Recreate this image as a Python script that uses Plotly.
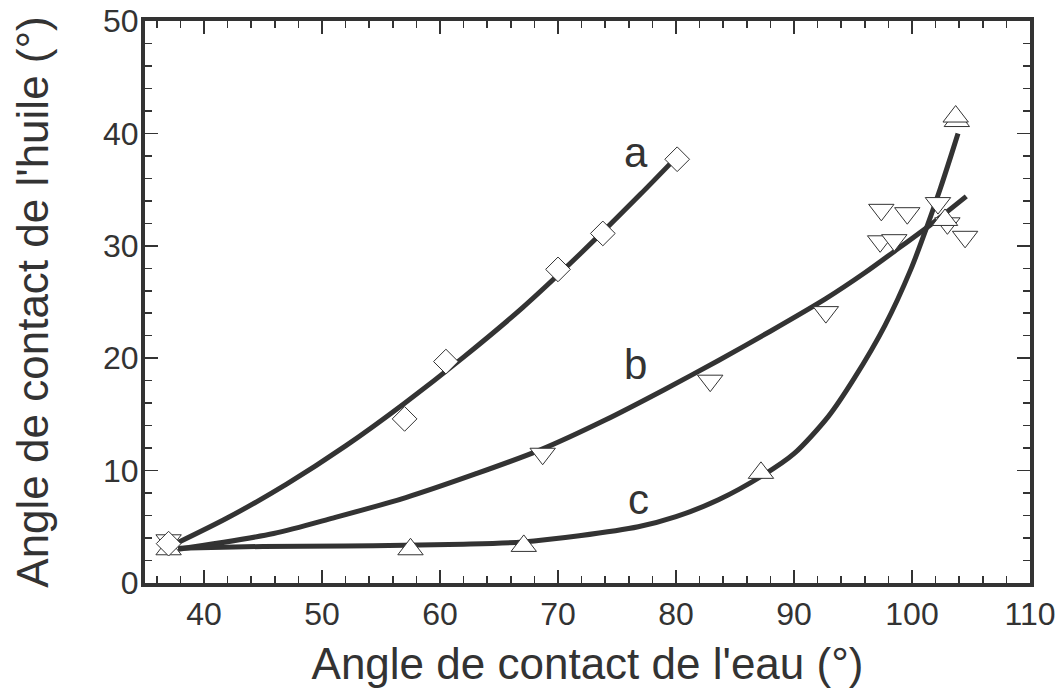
import plotly.graph_objects as go

# --- data ---
# series a (diamonds)
a_x = [37.0, 57.0, 60.5, 70.0, 73.8, 80.1]
a_y = [3.5, 14.6, 19.7, 27.9, 31.1, 37.7]
# series b (down triangles)
b_x = [37.0, 68.7, 82.9, 92.7, 97.4, 99.6, 97.3, 98.5, 102.2, 103.0, 104.5]
b_y = [3.8, 11.5, 18.0, 24.1, 33.2, 32.9, 30.4, 30.5, 33.8, 32.0, 30.8]
# series c (up triangles)
c_x = [37.0, 57.5, 67.1, 87.2, 102.8, 103.8, 103.7]
c_y = [3.0, 3.0, 3.3, 9.8, 32.3, 41.1, 41.5]

# fitted curves
fa_x = [37.8, 42, 47, 52, 57, 62, 67, 72, 77, 79.6]
fa_y = [3.6, 5.8, 8.8, 12.2, 16.0, 20.1, 24.5, 29.4, 34.6, 37.4]
fb_x = [37.8, 45.9, 51, 57.1, 63, 68.4, 74.0, 79, 83.6, 88, 92.7, 96, 98.5, 101.6, 104.6]
fb_y = [3.0, 4.4, 5.8, 7.6, 9.7, 11.8, 14.5, 17.2, 19.8, 22.4, 25.3, 27.6, 29.5, 31.9, 34.4]
fc_x = [37.8, 45, 52, 57, 62, 67, 71.8, 76.8, 80, 83.6, 87.4, 90, 92.9, 95.1, 97.7, 99.9, 101.3, 102.4, 103.3, 103.9]
fc_y = [3.1, 3.25, 3.3, 3.35, 3.45, 3.65, 4.2, 5.0, 5.9, 7.4, 9.6, 11.5, 14.8, 18.2, 22.9, 27.9, 31.8, 35.1, 38.0, 40.0]

curve_labels = ["a", "b", "c"]
label_x = [76.6, 76.6, 76.8]
label_y = [38.3, 19.4, 7.4]

x_ticks = [40, 50, 60, 70, 80, 90, 100, 110]
y_ticks = [0, 10, 20, 30, 40, 50]

INK = "#333333"
FONT = "Liberation Sans, Arial, Helvetica, sans-serif"

fig = go.Figure()
for fx, fy in [(fa_x, fa_y), (fb_x, fb_y), (fc_x, fc_y)]:
    fig.add_trace(go.Scatter(x=fx, y=fy, mode="lines",
                             line=dict(color=INK, width=5, shape="spline", smoothing=0.8),
                             hoverinfo="skip", showlegend=False))

mk = dict(color="white", line=dict(color=INK, width=1))
fig.add_trace(go.Scatter(x=b_x, y=b_y, mode="markers",
                         marker=dict(symbol="triangle-down", size=22, **mk), showlegend=False))
fig.add_trace(go.Scatter(x=c_x, y=c_y, mode="markers",
                         marker=dict(symbol="triangle-up", size=22, **mk), showlegend=False))
fig.add_trace(go.Scatter(x=a_x, y=a_y, mode="markers",
                         marker=dict(symbol="diamond", size=19, **mk), showlegend=False))

for t, lx, ly in zip(curve_labels, label_x, label_y):
    fig.add_annotation(x=lx, y=ly, text=t, showarrow=False,
                       font=dict(family=FONT, size=42, color=INK),
                       xanchor="center", yanchor="middle")

axis_common = dict(showline=True, linecolor=INK, linewidth=4, mirror="ticks",
                   ticks="inside", ticklen=13, tickwidth=1.5, tickcolor=INK,
                   showgrid=False, zeroline=False, ticklabeloverflow="allow",
                   tickfont=dict(family=FONT, size=32, color=INK),
                   minor=dict(ticks="inside", ticklen=7, tickwidth=1.5, tickcolor=INK, dtick=2, showgrid=False))

fig.update_xaxes(range=[35, 110], tickvals=x_ticks, ticktext=[str(v) for v in x_ticks],
                 title=dict(text="Angle de contact de l'eau (°)", standoff=21,
                            font=dict(family=FONT, size=44, color=INK)),
                 **axis_common)
fig.update_yaxes(range=[0, 50], tickvals=y_ticks, ticktext=[str(v) for v in y_ticks],
                 ticklabelstandoff=-4,
                 title=dict(text="Angle de contact de l'huile (°)", standoff=42,
                            font=dict(family=FONT, size=44, color=INK)),
                 **axis_common)

fig.update_layout(width=1064, height=688,
                  margin=dict(l=145, r=34, t=21, b=105, autoexpand=False),
                  plot_bgcolor="white", paper_bgcolor="white",
                  font=dict(family=FONT, color=INK))

# remove the browser's default 8px body margin so the figure fills the window
fig.write_html("out.html",
               config={"displayModeBar": False, "staticPlot": True},
               post_script="document.body.style.margin='0';document.body.style.overflow='hidden';")
